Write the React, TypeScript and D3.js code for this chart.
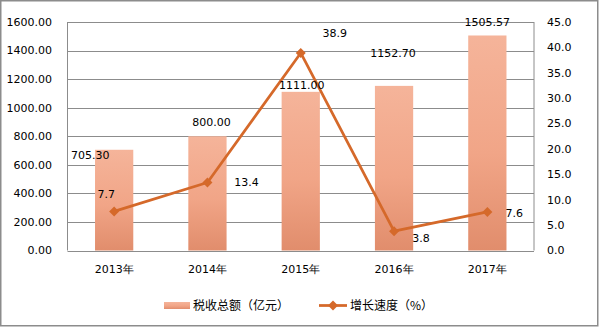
import React from "react";
import * as d3 from "d3";

const categories = ["2013年", "2014年", "2015年", "2016年", "2017年"];
const taxTotal = [705.3, 800.0, 1111.0, 1152.7, 1505.57];
const growth = [7.7, 13.4, 38.9, 3.8, 7.6];
const leftTicks = [0, 200, 400, 600, 800, 1000, 1200, 1400, 1600];
const rightTicks = [0, 5, 10, 15, 20, 25, 30, 35, 40, 45];
const barLabelOffsets: [number, number][] = [[-24, 5], [4, -14], [1, -7], [-1, -33], [0, -13]];
const lineLabelOffsets: [number, number][] = [[-8, -17], [39, 0], [34, -20], [27, 7], [27, 1]];
const seriesNames = ["税收总额（亿元）", "增长速度（%）"];

const W = 599, H = 327;
const left = 67.5, right = 534, top = 22, bottom = 250.5;
const FONT = "'DejaVu Sans', Verdana, sans-serif";
const CJK = "'Noto Sans CJK SC', sans-serif";
const LINE = "#D5692A";

export default function App() {
  const x = d3.scaleBand<string>().domain(categories).range([left, right]).paddingInner(0.59).paddingOuter(0.295);
  const yL = d3.scaleLinear().domain([0, 1600]).range([bottom, top]);
  const yR = d3.scaleLinear().domain([0, 45]).range([bottom, top]);
  const cx = (c: string) => (x(c) ?? 0) + x.bandwidth() / 2;
  const pts: [number, number][] = categories.map((c, i) => [cx(c), yR(growth[i])]);
  const line = d3.line()(pts) ?? "";
  const diamond = (px: number, py: number, r = 5) => `M${px},${py - r}L${px + r},${py}L${px},${py + r}L${px - r},${py}Z`;

  return (
    <svg width={W} height={H} style={{ position: "absolute", left: 0, top: 0, display: "block" }}>
      <defs>
        <linearGradient id="barGrad" x1="0" y1="0" x2="0" y2="1">
          <stop offset="0%" stopColor="#F5B49A" />
          <stop offset="55%" stopColor="#F1A587" />
          <stop offset="100%" stopColor="#E18D6C" />
        </linearGradient>
      </defs>
      <rect x={0} y={0} width={W} height={H} fill="#fff" />
      <rect x={0.75} y={0.75} width={W - 2} height={H - 2} fill="none" stroke="#8c8c8c" strokeWidth={1.5} />
      {leftTicks.map((t) => (
        <line key={"g" + t} x1={left} x2={right} y1={Math.round(yL(t)) + 0.5} y2={Math.round(yL(t)) + 0.5} stroke="#8c8c8c" strokeWidth={1} />
      ))}
      <line x1={left} x2={left} y1={top} y2={bottom} stroke="#8c8c8c" />
      <line x1={right} x2={right} y1={top} y2={bottom} stroke="#8c8c8c" />
      {categories.map((c, i) => (
        <rect key={"b" + c} x={x(c)} y={yL(taxTotal[i])} width={x.bandwidth()} height={bottom - yL(taxTotal[i])} fill="url(#barGrad)" />
      ))}
      <path d={line} fill="none" stroke={LINE} strokeWidth={2.75} strokeLinejoin="round" />
      {pts.map(([px, py], i) => (
        <path key={"m" + i} d={diamond(px, py)} fill={LINE} />
      ))}
      {leftTicks.map((t) => (
        <text key={"l" + t} x={52} y={yL(t)} dy="0.35em" textAnchor="end" fontFamily={FONT} fontSize={11} fill="#000">{t.toFixed(2)}</text>
      ))}
      {rightTicks.map((t) => (
        <text key={"r" + t} x={547} y={yR(t)} dy="0.35em" textAnchor="start" fontFamily={FONT} fontSize={11} fill="#000">{t.toFixed(1)}</text>
      ))}
      {categories.map((c) => (
        <text key={"x" + c} x={cx(c)} y={269} dy="0.35em" textAnchor="middle" fontFamily={FONT} fontSize={11} fill="#000">{c}</text>
      ))}
      {categories.map((c, i) => (
        <text key={"bl" + c} x={cx(c) + barLabelOffsets[i][0]} y={yL(taxTotal[i]) + barLabelOffsets[i][1]} dy="0.35em" textAnchor="middle" fontFamily={FONT} fontSize={11} fill="#000">{taxTotal[i].toFixed(2)}</text>
      ))}
      {categories.map((c, i) => (
        <text key={"ll" + c} x={pts[i][0] + lineLabelOffsets[i][0]} y={pts[i][1] + lineLabelOffsets[i][1]} dy="0.35em" textAnchor="middle" fontFamily={FONT} fontSize={11} fill="#000">{growth[i].toFixed(1)}</text>
      ))}
      <rect x={164} y={302} width={26} height={7} fill="url(#barGrad)" />
      <text x={193} y={305.5} dy="0.35em" fontFamily={CJK} fontSize={12} fill="#000">{seriesNames[0]}</text>
      <line x1={319} x2={347} y1={305.5} y2={305.5} stroke={LINE} strokeWidth={2.75} />
      <path d={diamond(333, 305.5)} fill={LINE} />
      <text x={350} y={305.5} dy="0.35em" fontFamily={CJK} fontSize={12} fill="#000">{seriesNames[1]}</text>
    </svg>
  );
}
